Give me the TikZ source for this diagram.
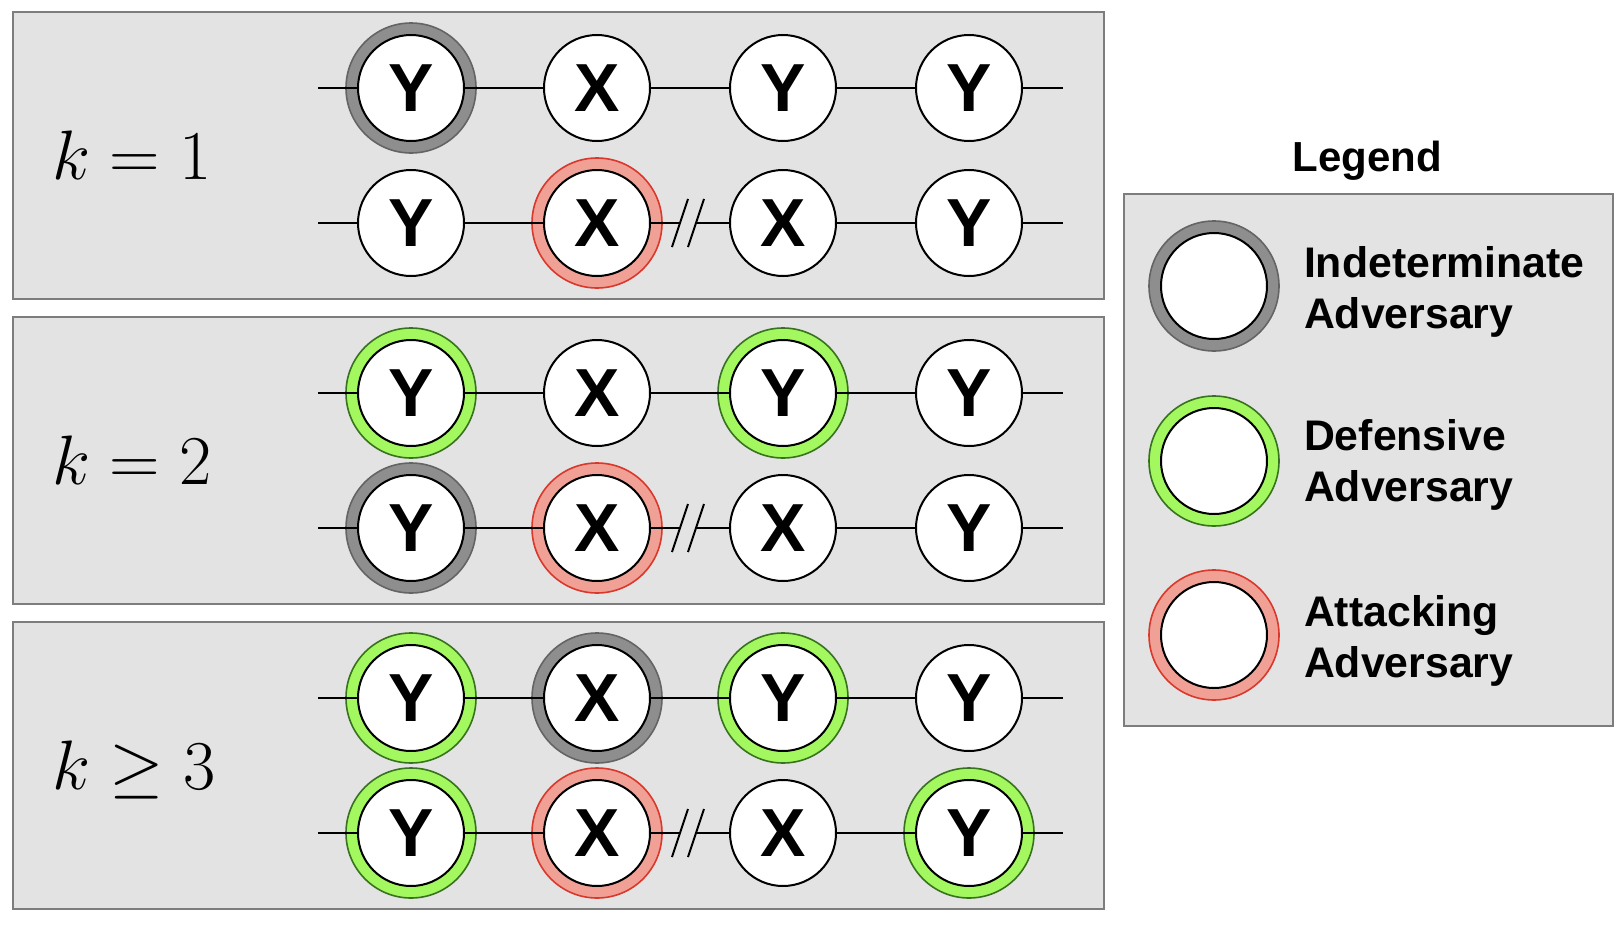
\RequirePackage{fix-cm}
\documentclass[tikz,border=0pt]{standalone}
\usepackage[no-math]{fontspec}
\newfontfamily\advfont{Liberation Sans}
\definecolor{panelfill}{RGB}{227,227,227}
\definecolor{panelborder}{RGB}{125,125,125}
\definecolor{indetfill}{RGB}{142,142,142}
\definecolor{indetborder}{RGB}{100,100,100}
\definecolor{deffill}{RGB}{163,247,95}
\definecolor{defborder}{RGB}{55,115,30}
\definecolor{attfill}{RGB}{241,160,150}
\definecolor{attborder}{RGB}{217,56,42}
\begin{document}
\begin{tikzpicture}[x=0.5pt, y=-0.5pt, font=\advfont\bfseries]
    % Adversary kinds along the chain for each value of k, legend at right
    \tikzset{panel/.style={draw=panelborder, fill=panelfill, line width=1pt}, adv/.style={circle, draw, fill=white, line width=1pt, minimum size=53pt, inner sep=0pt, font=\advfont\bfseries\fontsize{34}{34}\selectfont}, ring/.style={line width=0.8pt}, indet/.style={ring, draw=indetborder, fill=indetfill}, defn/.style={ring, draw=defborder, fill=deffill}, attk/.style={ring, draw=attborder, fill=attfill}, link/.style={line width=1pt}, klabel/.style={anchor=base west, inner sep=0pt, font=\fontsize{35}{35}\selectfont}, legtext/.style={anchor=west, align=left, font=\advfont\bfseries\fontsize{21.4}{25.8}\selectfont}}
    \useasboundingbox (0,0) rectangle (1624,926);
    \begin{scope}[shift={(0,0)}]
        \draw[panel] (13,12) rectangle (1104,299);
        \node[klabel] (k1) at (52,179) {$k=1$};
        \draw[indet] (411,88) circle[radius=32.5pt]; \draw[attk] (597,223) circle[radius=32.5pt];
        \node[adv] (a1u1) at (411,88) {Y}; \node[adv] (a1u2) at (597,88) {X}; \node[adv] (a1u3) at (783,88) {Y}; \node[adv] (a1u4) at (969,88) {Y};
        \node[adv] (a1l1) at (411,223) {Y}; \node[adv] (a1l2) at (597,223) {X}; \node[adv] (a1l3) at (783,223) {X}; \node[adv] (a1l4) at (969,223) {Y};
        \coordinate (a1ul) at (318,88); \coordinate (a1ur) at (1063,88); \coordinate (a1ll) at (318,223); \coordinate (a1lr) at (1063,223);
        \coordinate (a1s1) at (680,223); \coordinate (a1s2) at (696,223);
        \draw[link] (a1ul) -- (a1u1) -- (a1u2) -- (a1u3) -- (a1u4) -- (a1ur);
        \draw[link] (a1ll) -- (a1l1) -- (a1l2) -- (a1s1); \draw[link] (a1s2) -- (a1l3) -- (a1l4) -- (a1lr);
        \draw[link] (a1s1) ++(-8,24) -- ++(16,-48); \draw[link] (a1s2) ++(-8,24) -- ++(16,-48);
    \end{scope}
    \begin{scope}[shift={(0,305)}]
        \draw[panel] (13,12) rectangle (1104,299);
        \node[klabel] (k2) at (52,179) {$k=2$};
        \draw[defn] (411,88) circle[radius=32.5pt]; \draw[defn] (783,88) circle[radius=32.5pt];
        \draw[indet] (411,223) circle[radius=32.5pt]; \draw[attk] (597,223) circle[radius=32.5pt];
        \node[adv] (a2u1) at (411,88) {Y}; \node[adv] (a2u2) at (597,88) {X}; \node[adv] (a2u3) at (783,88) {Y}; \node[adv] (a2u4) at (969,88) {Y};
        \node[adv] (a2l1) at (411,223) {Y}; \node[adv] (a2l2) at (597,223) {X}; \node[adv] (a2l3) at (783,223) {X}; \node[adv] (a2l4) at (969,223) {Y};
        \coordinate (a2ul) at (318,88); \coordinate (a2ur) at (1063,88); \coordinate (a2ll) at (318,223); \coordinate (a2lr) at (1063,223);
        \coordinate (a2s1) at (680,223); \coordinate (a2s2) at (696,223);
        \draw[link] (a2ul) -- (a2u1) -- (a2u2) -- (a2u3) -- (a2u4) -- (a2ur);
        \draw[link] (a2ll) -- (a2l1) -- (a2l2) -- (a2s1); \draw[link] (a2s2) -- (a2l3) -- (a2l4) -- (a2lr);
        \draw[link] (a2s1) ++(-8,24) -- ++(16,-48); \draw[link] (a2s2) ++(-8,24) -- ++(16,-48);
    \end{scope}
    \begin{scope}[shift={(0,610)}]
        \draw[panel] (13,12) rectangle (1104,299);
        \node[klabel] (k3) at (52,179) {$k\geq3$};
        \draw[defn] (411,88) circle[radius=32.5pt]; \draw[indet] (597,88) circle[radius=32.5pt]; \draw[defn] (783,88) circle[radius=32.5pt];
        \draw[defn] (411,223) circle[radius=32.5pt]; \draw[attk] (597,223) circle[radius=32.5pt]; \draw[defn] (969,223) circle[radius=32.5pt];
        \node[adv] (a3u1) at (411,88) {Y}; \node[adv] (a3u2) at (597,88) {X}; \node[adv] (a3u3) at (783,88) {Y}; \node[adv] (a3u4) at (969,88) {Y};
        \node[adv] (a3l1) at (411,223) {Y}; \node[adv] (a3l2) at (597,223) {X}; \node[adv] (a3l3) at (783,223) {X}; \node[adv] (a3l4) at (969,223) {Y};
        \coordinate (a3ul) at (318,88); \coordinate (a3ur) at (1063,88); \coordinate (a3ll) at (318,223); \coordinate (a3lr) at (1063,223);
        \coordinate (a3s1) at (680,223); \coordinate (a3s2) at (696,223);
        \draw[link] (a3ul) -- (a3u1) -- (a3u2) -- (a3u3) -- (a3u4) -- (a3ur);
        \draw[link] (a3ll) -- (a3l1) -- (a3l2) -- (a3s1); \draw[link] (a3s2) -- (a3l3) -- (a3l4) -- (a3lr);
        \draw[link] (a3s1) ++(-8,24) -- ++(16,-48); \draw[link] (a3s2) ++(-8,24) -- ++(16,-48);
    \end{scope}
    % legend
    \node[font=\advfont\bfseries\fontsize{21}{24}\selectfont] (legtitle) at (1367,161) {Legend};
    \draw[panel] (1124,194) rectangle (1613,726);
    \draw[indet] (1214,286) circle[radius=32.5pt]; \draw[defn] (1214,461) circle[radius=32.5pt]; \draw[attk] (1214,635) circle[radius=32.5pt];
    \node[adv] (legi) at (1214,286) {}; \node[adv] (legd) at (1214,461) {}; \node[adv] (lega) at (1214,635) {};
    \node[legtext] (legit) at (1297,292) {Indeterminate\\Adversary};
    \node[legtext] (legdt) at (1297,465) {Defensive\\Adversary};
    \node[legtext] (legat) at (1297,641) {Attacking\\Adversary};
\end{tikzpicture}
\end{document}
